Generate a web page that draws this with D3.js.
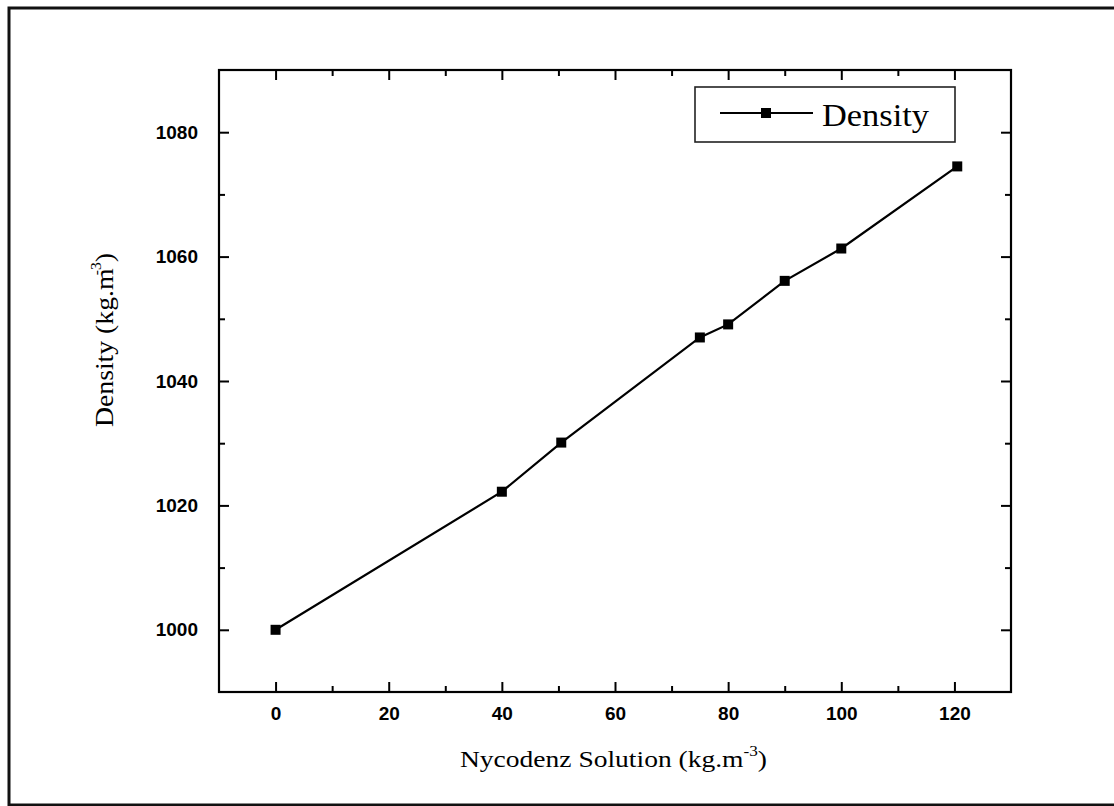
<!doctype html>
<html>
<head>
    <meta charset="UTF-8">
    <title>Density vs Nycodenz</title>
    <script src="https://d3js.org/d3.v7.min.js"></script>
    <style>
        body { margin: 0; background: #fff; }
        svg text { fill: #000; }
    </style>
</head>
<body>
    <script>
        // data
        var nycodenz = [0, 40, 50.5, 75, 80, 90, 100, 120.5];
        var density = [1000, 1022.2, 1030.1, 1047, 1049.1, 1056.1, 1061.3, 1074.5];
        var xTicks = [0, 20, 40, 60, 80, 100, 120];
        var xMinor = [10, 30, 50, 70, 90, 110];
        var yTicks = [1000, 1020, 1040, 1060, 1080];
        var yMinor = [1010, 1030, 1050, 1070];
        var seriesName = "Density";

        var W = 1114, H = 806;
        var pLeft = 219, pTop = 70, pRight = 1011, pBottom = 692;

        var x = d3.scaleLinear().domain([-10, 130]).range([pLeft, pRight]);
        var y = d3.scaleLinear().domain([990, 1090]).range([pBottom, pTop]);
        var fmt = d3.format("d");

        var svg = d3.select("body").append("svg")
            .attr("width", W)
            .attr("height", H);

        // outer frame (right side runs off the picture)
        svg.append("rect")
            .attr("x", 9).attr("y", 8)
            .attr("width", 1115).attr("height", 797)
            .attr("fill", "none")
            .attr("stroke", "#111")
            .attr("stroke-width", 3);

        drawAxes();
        drawSeries();
        drawLegend();
        drawTitles();

        function styleAxis(g) {
            g.select(".domain").remove();
            g.selectAll("line").attr("stroke", "#000").attr("stroke-width", 2);
            g.selectAll("text")
                .attr("font-family", "'Liberation Sans', Arial, sans-serif")
                .attr("font-size", 19)
                .attr("font-weight", "bold")
                .attr("fill", "#000");
        }

        function drawAxes() {
            var major = 10, minor = 6;
            //bottom-----------------------
            svg.append("g").attr("transform", "translate(0," + pBottom + ")")
                .call(d3.axisBottom(x).tickValues(xTicks).tickFormat(fmt).tickSizeInner(-major).tickSizeOuter(0).tickPadding(15))
                .call(styleAxis);
            svg.append("g").attr("transform", "translate(0," + pBottom + ")")
                .call(d3.axisBottom(x).tickValues(xMinor).tickSizeInner(-minor).tickSizeOuter(0).tickFormat(""))
                .call(styleAxis);
            //top-----------------------
            svg.append("g").attr("transform", "translate(0," + pTop + ")")
                .call(d3.axisTop(x).tickValues(xTicks).tickSizeInner(-major).tickSizeOuter(0).tickFormat(""))
                .call(styleAxis);
            svg.append("g").attr("transform", "translate(0," + pTop + ")")
                .call(d3.axisTop(x).tickValues(xMinor).tickSizeInner(-minor).tickSizeOuter(0).tickFormat(""))
                .call(styleAxis);
            //left-----------------------
            svg.append("g").attr("transform", "translate(" + pLeft + ",0)")
                .call(d3.axisLeft(y).tickValues(yTicks).tickFormat(fmt).tickSizeInner(-major).tickSizeOuter(0).tickPadding(21))
                .call(styleAxis);
            svg.append("g").attr("transform", "translate(" + pLeft + ",0)")
                .call(d3.axisLeft(y).tickValues(yMinor).tickSizeInner(-minor).tickSizeOuter(0).tickFormat(""))
                .call(styleAxis);
            //right-----------------------
            svg.append("g").attr("transform", "translate(" + pRight + ",0)")
                .call(d3.axisRight(y).tickValues(yTicks).tickSizeInner(-major).tickSizeOuter(0).tickFormat(""))
                .call(styleAxis);
            svg.append("g").attr("transform", "translate(" + pRight + ",0)")
                .call(d3.axisRight(y).tickValues(yMinor).tickSizeInner(-minor).tickSizeOuter(0).tickFormat(""))
                .call(styleAxis);

            // plot frame
            svg.append("rect")
                .attr("x", pLeft).attr("y", pTop)
                .attr("width", pRight - pLeft).attr("height", pBottom - pTop)
                .attr("fill", "none")
                .attr("stroke", "#000")
                .attr("stroke-width", 2.2);
        }

        function drawSeries() {
            var pts = nycodenz.map(function(d, i) { return [d, density[i]]; });
            var line = d3.line()
                .x(function(d) { return x(d[0]); })
                .y(function(d) { return y(d[1]); });

            svg.append("path")
                .datum(pts)
                .attr("d", line)
                .attr("fill", "none")
                .attr("stroke", "#000")
                .attr("stroke-width", 2.2);

            svg.selectAll("rect.pt")
                .data(pts)
                .enter()
                .append("rect")
                .attr("class", "pt")
                .attr("x", function(d) { return x(d[0]) - 5; })
                .attr("y", function(d) { return y(d[1]) - 5; })
                .attr("width", 10)
                .attr("height", 10)
                .attr("fill", "#000");
        }

        function drawLegend() {
            var g = svg.append("g");
            g.append("rect")
                .attr("x", 695).attr("y", 87)
                .attr("width", 260).attr("height", 55)
                .attr("fill", "#fff")
                .attr("stroke", "#222")
                .attr("stroke-width", 1.6);
            g.append("line")
                .attr("x1", 720).attr("x2", 813)
                .attr("y1", 113).attr("y2", 113)
                .attr("stroke", "#000").attr("stroke-width", 2);
            g.append("rect")
                .attr("x", 761).attr("y", 108)
                .attr("width", 10).attr("height", 10)
                .attr("fill", "#000");
            g.append("text")
                .attr("x", 822).attr("y", 126)
                .attr("font-family", "'Liberation Serif', 'Times New Roman', serif")
                .attr("font-size", 31)
                .attr("textLength", 107)
                .attr("lengthAdjust", "spacingAndGlyphs")
                .text(seriesName);
        }

        function drawTitles() {
            var serif = "'Liberation Serif', 'Times New Roman', serif";
            var xt = svg.append("text")
                .attr("x", 460).attr("y", 767)
                .attr("font-family", serif)
                .attr("font-size", 24)
                .attr("textLength", 307)
                .attr("lengthAdjust", "spacingAndGlyphs");
            xt.append("tspan").text("Nycodenz Solution (kg.m");
            xt.append("tspan").attr("font-size", 15).attr("dy", -11).text("-3");
            xt.append("tspan").attr("dy", 11).text(")");

            var yt = svg.append("text")
                .attr("transform", "translate(113,427) rotate(-90)")
                .attr("font-family", serif)
                .attr("font-size", 25)
                .attr("textLength", 174)
                .attr("lengthAdjust", "spacingAndGlyphs");
            yt.append("tspan").text("Density (kg.m");
            yt.append("tspan").attr("font-size", 14).attr("dy", -12).attr("dx", -6).text("-3");
            yt.append("tspan").attr("dy", 12).text(")");
        }
    </script>
</body>
</html>
